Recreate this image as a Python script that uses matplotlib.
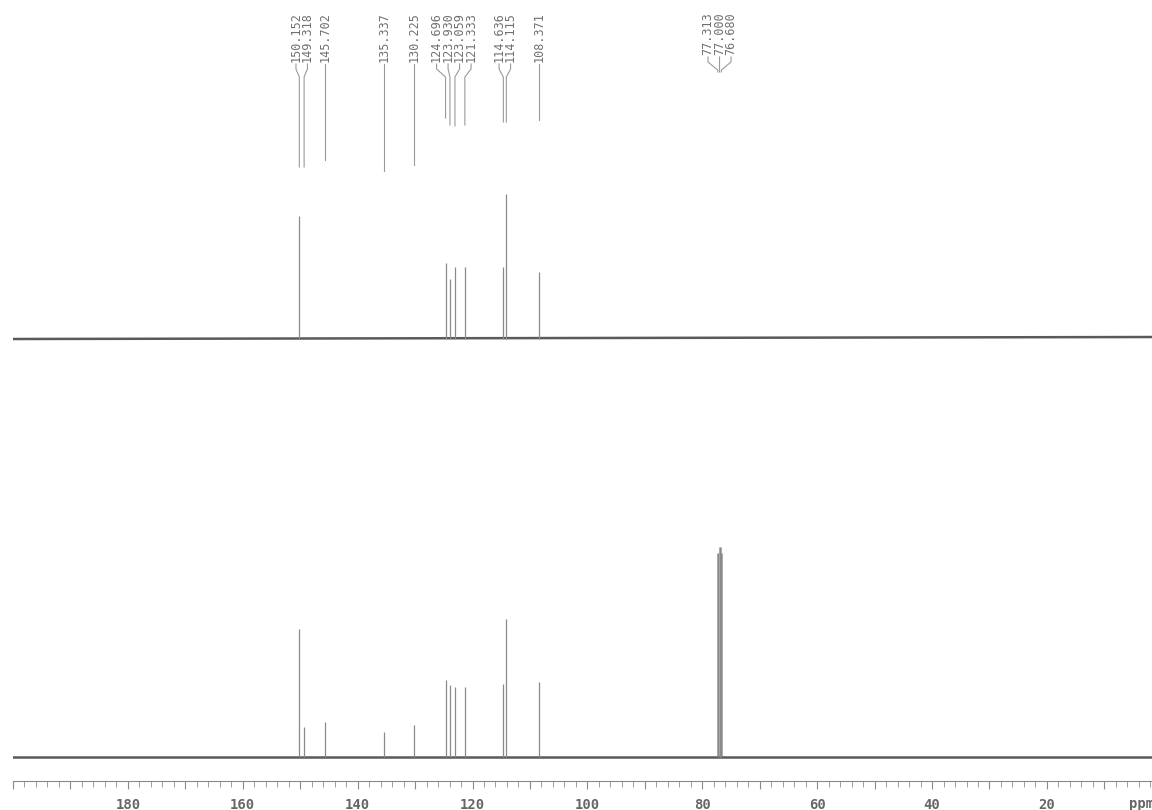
import matplotlib
matplotlib.use("Agg")
import matplotlib.pyplot as plt
from matplotlib.ticker import MultipleLocator, FuncFormatter

# peak list (ppm) and heights
peaks = [150.152, 149.318, 145.702, 135.337, 130.225, 124.696, 123.930,
         123.059, 121.333, 114.636, 114.115, 108.371, 77.313, 77.000, 76.680]
# lower trace (full 13C)
h_lower = [128, 30, 35, 25, 32, 77, 72, 70, 70, 73, 138, 75, 204, 210, 204]
# upper trace (only some carbons show up)
up_ppm = [150.152, 124.696, 123.930, 123.059, 121.333, 114.636, 114.115, 108.371]
h_upper = [123, 76, 60, 72, 72, 72, 145, 67]

# where the label lines stop (pixel rows from top)
line_end = [167, 167, 160, 171, 165, 118, 125, 126, 125, 122, 122, 120, 72, 72, 72]

W, H = 1152, 810
fig = plt.figure(figsize=(W / 100, H / 100), dpi=100)
fig.patch.set_facecolor("white")

x0 = 13            # pixel of 200 ppm
pxppm = 5.744      # pixels per ppm
left = x0 / W
width = 200 * pxppm / W
grey = "#666666"


def frac(row):
    return 1 - row / H


# lower spectrum + ppm axis, y units ~ pixels
ax_lo = fig.add_axes([left, frac(781), width, frac(420) - frac(781)])
ax_lo.set_xlim(200, 0)
ax_lo.set_ylim(-24, 781 - 420 - 24)
ax_lo.plot([200, 0], [0, 0], color="#5a5a5a", lw=1.8)
ax_lo.vlines(peaks, 0, h_lower, color="#8a8a8a", lw=0.9)
ax_lo.vlines(peaks[-3:], 0, h_lower[-3:], color="#b0b0b0", lw=2.2, zorder=1)
for s in ["top", "left", "right"]:
    ax_lo.spines[s].set_visible(False)
ax_lo.spines["bottom"].set_color("#8a8a8a")
ax_lo.spines["bottom"].set_linewidth(0.8)
ax_lo.set_yticks([])
ax_lo.xaxis.set_major_locator(MultipleLocator(10))
ax_lo.xaxis.set_minor_locator(MultipleLocator(2))
ax_lo.xaxis.set_major_formatter(FuncFormatter(
    lambda v, p: "%d" % v if (round(v) % 20 == 0 and 0 < v < 200) else ""))
ax_lo.tick_params(axis="x", which="major", length=6, width=0.8, color="#8a8a8a",
                  pad=6, labelsize=10, labelcolor=grey)
ax_lo.tick_params(axis="x", which="minor", length=4, width=0.7, color="#a0a0a0")
for t in ax_lo.get_xticklabels():
    t.set_family("DejaVu Sans Mono")
    t.set_fontweight("bold")

# upper spectrum
ax_up = fig.add_axes([left, frac(400), width, frac(100) - frac(400)])
ax_up.set_xlim(200, 0)
ax_up.set_ylim(-61, 300 - 61)
ax_up.plot([200, 0], [0, 2], color="#5a5a5a", lw=1.8)
ax_up.vlines(up_ppm, 0, h_upper, color="#8a8a8a", lw=0.9)
ax_up.axis("off")

# overlay for peak labels, x in ppm, y in pixel rows
ov = fig.add_axes([left, 0, width, 1])
ov.set_xlim(200, 0)
ov.set_ylim(H, 0)
ov.axis("off")

ov.text(3.6, 804, "ppm", fontsize=10, color=grey, family="DejaVu Sans Mono",
        fontweight="bold", ha="center", va="center")

# spread labels so they do not overlap
gap = 11.5 / pxppm
groups = [[i] for i in range(len(peaks))]
pos = list(peaks)
changed = True
while changed:
    changed = False
    for k in range(len(groups) - 1):
        a, b = groups[k], groups[k + 1]
        if pos[a[-1]] - pos[b[0]] < gap:
            g = a + b
            c = sum(peaks[i] for i in g) / len(g)
            n = len(g)
            for j, i in enumerate(g):
                pos[i] = c + (n - 1) / 2 * gap - j * gap
            groups[k:k + 2] = [g]
            changed = True
            break

for i, p in enumerate(peaks):
    lab = "%.3f" % p
    ov.text(pos[i], 12, lab, rotation=90, ha="center", va="top", fontsize=8.5,
            family="DejaVu Sans Mono", color="#707070")
    nch = len(lab)
    y_txt = 12 + nch * 7.0 + 3
    ov.plot([pos[i], pos[i], p, p], [y_txt, y_txt + 5, y_txt + 13, line_end[i]],
            color="#9a9a9a", lw=0.8)

fig.savefig("out.png", dpi=100, facecolor="white")
